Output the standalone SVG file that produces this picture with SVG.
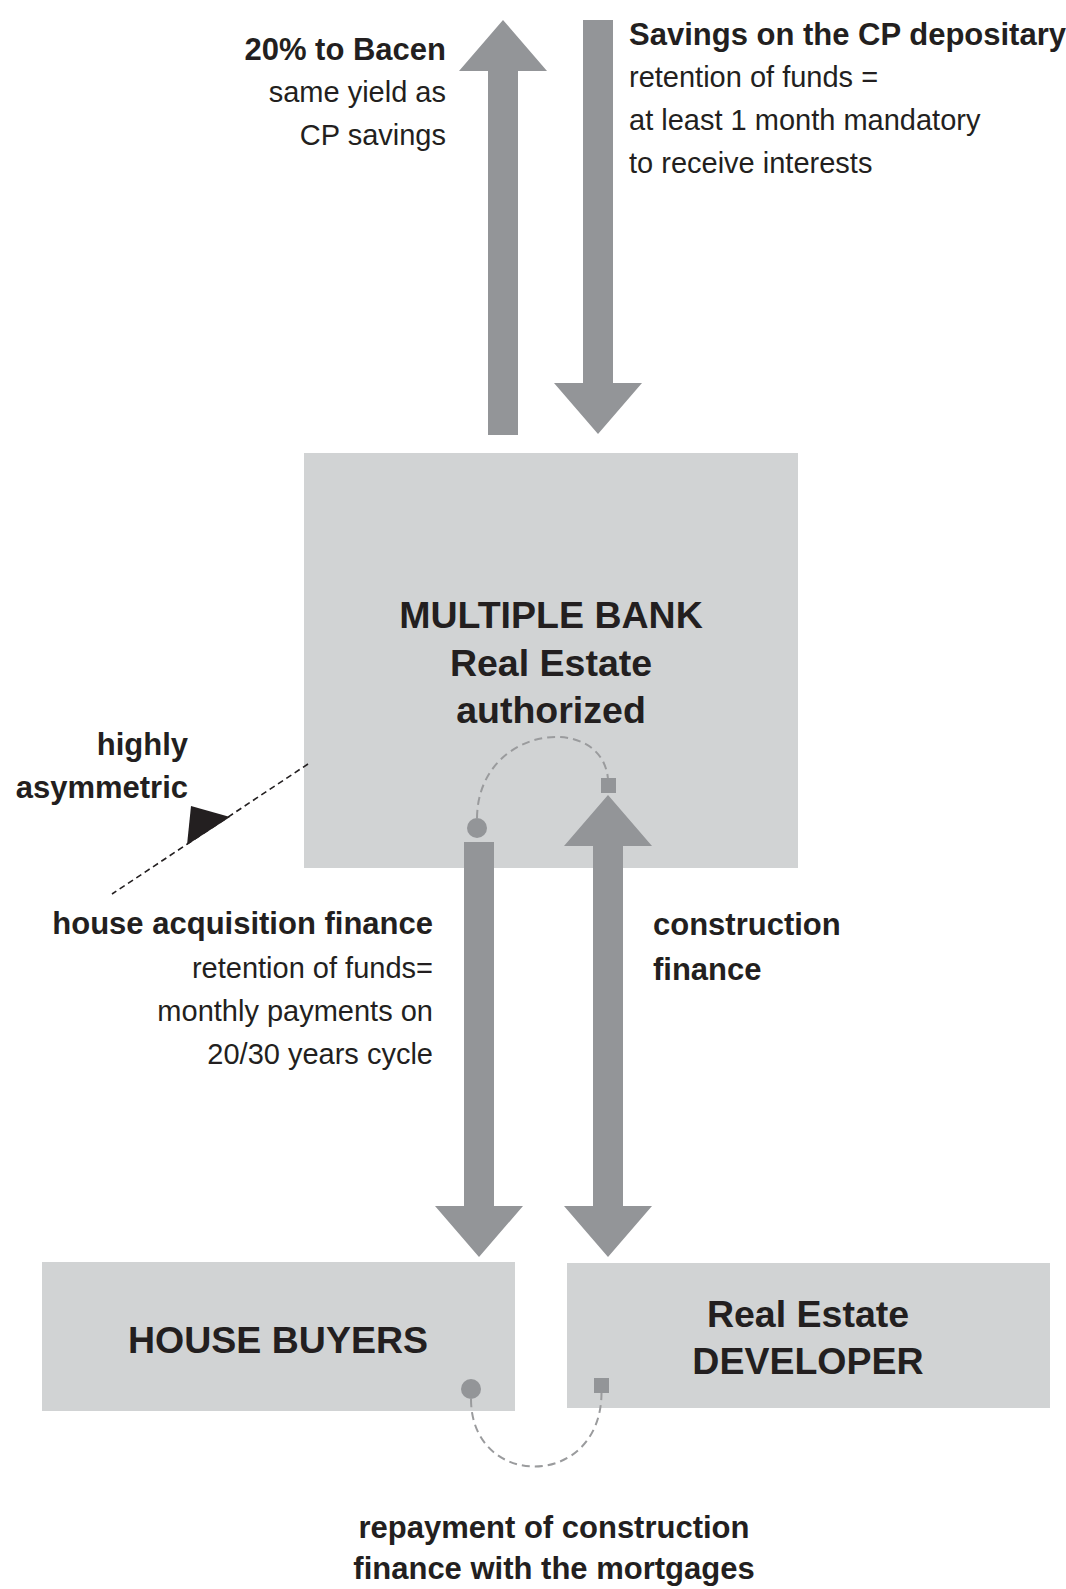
<svg xmlns="http://www.w3.org/2000/svg" width="1066" height="1589" viewBox="0 0 1066 1589">
  <style>
    .box { fill: #d1d3d4; }
    .flow { fill: #939598; }
    .marker { fill: #939598; }
    .link { fill: none; stroke: #9a9b9d; stroke-width: 2; stroke-dasharray: 8 5; }
    .pointer { fill: none; stroke: #231f20; stroke-width: 1.6; stroke-dasharray: 6 4; }
    text { font-family: "Liberation Sans", Arial, sans-serif; fill: #231f20; }
    .b { font-weight: bold; font-size: 31px; }
    .r { font-size: 29px; }
    .title { font-weight: bold; font-size: 37.5px; text-anchor: middle; }
    .end { text-anchor: end; }
    .mid { text-anchor: middle; }
  </style>

  <!-- nodes -->
  <g id="multiple-bank">
    <rect class="box" x="304" y="453" width="494" height="415"/>
    <text class="title" x="551" y="628">MULTIPLE BANK</text>
    <text class="title" x="551" y="676">Real Estate</text>
    <text class="title" x="551" y="723">authorized</text>
  </g>

  <g id="house-buyers">
    <rect class="box" x="42" y="1262" width="473" height="149"/>
    <text class="title" x="278" y="1353">HOUSE BUYERS</text>
  </g>

  <g id="developer">
    <rect class="box" x="567" y="1263" width="483" height="145"/>
    <text class="title" x="808" y="1327">Real Estate</text>
    <text class="title" x="808" y="1374">DEVELOPER</text>
  </g>

  <!-- connectors -->
  <g id="connectors">
    <!-- 20% reserve up to Bacen -->
    <polygon class="flow" points="503,20 547,71 518,71 518,435 488,435 488,71 459,71"/>
    <!-- savings deposits down into the bank -->
    <polygon class="flow" points="583,20 613,20 613,383 642,383 598,434 554,383 583,383"/>
    <!-- house acquisition finance -->
    <polygon class="flow" points="464,842 494,842 494,1206 523,1206 479,1257 435,1206 464,1206"/>
    <!-- construction finance, two-way -->
    <polygon class="flow" points="608,795 652,846 623,846 623,1206 652,1206 608,1257 564,1206 593,1206 593,846 564,846"/>

    <!-- loop inside the bank -->
    <path class="link" d="M477,818 C478,725 602,712 608,779"/>
    <circle class="marker" cx="477" cy="828" r="10"/>
    <rect class="marker" x="601" y="778" width="15" height="15"/>

    <!-- repayment loop between buyers and developer -->
    <path class="link" d="M471,1399 C471,1490 601,1490 601.5,1393"/>
    <circle class="marker" cx="471" cy="1389" r="10"/>
    <rect class="marker" x="594" y="1378" width="15" height="15"/>

    <!-- asymmetry pointer -->
    <line class="pointer" x1="308" y1="764" x2="112" y2="894"/>
    <polygon fill="#231f20" points="230,817 191,806 187,845"/>
  </g>

  <!-- labels -->
  <g id="label-bacen">
    <text class="b end" x="446" y="60">20% to Bacen</text>
    <text class="r end" x="446" y="102">same yield as</text>
    <text class="r end" x="446" y="145">CP savings</text>
  </g>

  <g id="label-savings">
    <text class="b" x="629" y="45">Savings on the CP depositary</text>
    <text class="r" x="629" y="87">retention of funds =</text>
    <text class="r" x="629" y="130">at least 1 month mandatory</text>
    <text class="r" x="629" y="173">to receive interests</text>
  </g>

  <g id="label-asymmetric">
    <text class="b end" x="188" y="755">highly</text>
    <text class="b end" x="188" y="798">asymmetric</text>
  </g>

  <g id="label-house-finance">
    <text class="b end" x="433" y="934">house acquisition finance</text>
    <text class="r end" x="433" y="978">retention of funds=</text>
    <text class="r end" x="433" y="1021">monthly payments on</text>
    <text class="r end" x="433" y="1064">20/30 years cycle</text>
  </g>

  <g id="label-construction">
    <text class="b" x="653" y="935">construction</text>
    <text class="b" x="653" y="980">finance</text>
  </g>

  <g id="label-repayment">
    <text class="b mid" x="554" y="1538">repayment of construction</text>
    <text class="b mid" x="554" y="1579">finance with the mortgages</text>
  </g>
</svg>
